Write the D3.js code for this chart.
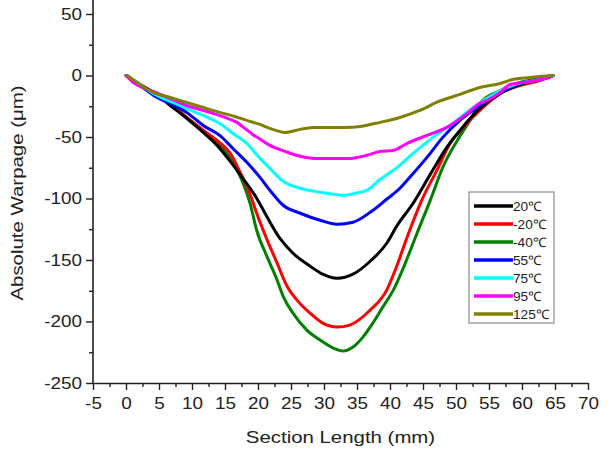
<!DOCTYPE html>
<html><head><meta charset="utf-8">
<script src="https://cdn.jsdelivr.net/npm/d3@7"></script>
<style>
body{margin:0;background:#fff}
svg{display:block}
text{font-family:"Liberation Sans",Arial,Helvetica,sans-serif;fill:#222}
</style>
</head><body>
<svg id="c" width="616" height="450"></svg>
<script>
// ---- data (x: mm, y: µm) ----
const seriesNames  = ["20℃", "-20℃", "-40℃", "55℃", "75℃", "95℃", "125℃"];
const seriesColors = ["#000000", "#ff0000", "#008000", "#0000ff", "#00ffff", "#ff00ff", "#808000"];

const s20 = [[0,0],[2.1,-7.3],[4.4,-14.6],[6.7,-24.4],[9.2,-34.9],[11.7,-46.3],[13.8,-56.8],[15.8,-69.8],[17.7,-83.6],[19.8,-99.8],[21.4,-115.3],[23.3,-132.3],[25.3,-144.5],[27.9,-155],[29.8,-161.5],[32,-164.8],[34.4,-161.5],[37,-151],[39.5,-136.4],[41.1,-121.8],[43.5,-103.9],[46.1,-80.4],[48.6,-58.4],[50.6,-44.6],[53.6,-26.8],[56.7,-14.6],[59.7,-7.3],[62.7,-3.2],[64.7,0]];
const sM20 = [[0,0],[2.1,-7.3],[4.4,-14.6],[6.7,-22.7],[9.2,-34.1],[11.7,-44.6],[13.8,-52.8],[15.8,-63.3],[17.3,-78.7],[18.8,-96.6],[19.8,-112],[21.4,-133.9],[22.9,-152.6],[24.4,-171.3],[25.9,-182.6],[27.9,-193.2],[29.8,-201.3],[32,-204.5],[33.9,-202.9],[37,-190.7],[39.5,-174.5],[40.9,-156.7],[42.7,-129.9],[44.8,-101.5],[47.1,-77.1],[49.1,-55.2],[51.1,-42.2],[53.6,-28.4],[56.7,-14.6],[59.7,-8.1],[62.7,-4.1],[64.7,0]];
const sM40 = [[0,0],[2.1,-7.3],[4.4,-14.6],[6.7,-22.7],[9.2,-34.1],[11.7,-44.6],[14.2,-56.8],[16.2,-70.6],[17.7,-86.9],[18.8,-103.9],[19.8,-125.8],[21.4,-147.7],[22.9,-166.4],[23.8,-179.4],[25.3,-193.2],[27.4,-207],[29.4,-215.1],[31.4,-221.6],[32.9,-224],[34.4,-220.8],[35.9,-212.7],[37.4,-201.3],[38.9,-188.3],[40.5,-174.5],[42,-156.7],[44.1,-128.2],[46.1,-101.5],[48,-74.7],[50.2,-52.8],[52.1,-36.5],[53.6,-22.7],[56.7,-12.2],[59.7,-5.7],[62.7,-2.4],[64.7,0]];
const s55 = [[0,0],[2.1,-8.1],[4.7,-17.9],[7,-23.5],[9.2,-30],[11.7,-40.6],[14.2,-48.7],[16.2,-59.3],[18.3,-70.6],[20.3,-82.8],[21.8,-93.3],[23.8,-105.5],[26.4,-112],[29.4,-117.7],[32,-120.9],[34.4,-119.3],[37,-111.2],[39.5,-100.6],[41.5,-91.7],[43,-82.8],[45.6,-66.6],[48,-50.3],[50.6,-36.5],[53.2,-26],[56.7,-13.8],[59.7,-6.5],[62.7,-3.2],[64.7,0]];
const s75 = [[0,0],[2.1,-7.3],[4.1,-14.6],[6.7,-21.1],[9.2,-26.8],[11.7,-32.5],[14.2,-39],[16.2,-47.1],[18.3,-55.2],[20.3,-67.4],[21.8,-75.5],[23.8,-86],[26.4,-91.7],[28.6,-94.2],[30.5,-95.8],[32.9,-97.4],[34.7,-95.8],[36.5,-93.3],[38.5,-84.4],[41.1,-74.7],[43.5,-63.3],[46.5,-50.3],[49.5,-39],[52.6,-26],[54.4,-19.5],[55.9,-14.6],[58.9,-7.3],[62.7,-3.2],[64.7,0]];
const s95 = [[0,0],[1.1,-5.7],[2.9,-10.6],[4.1,-13],[6.7,-18.7],[9.2,-24.4],[11.2,-27.6],[13.2,-30.8],[15,-34.1],[16.8,-38.1],[18,-43],[19.2,-47.9],[20.6,-52.8],[21.8,-56.8],[24.1,-61.7],[26.4,-65.7],[28.6,-67.4],[31.4,-67.4],[33.9,-67.4],[36.5,-64.9],[38.5,-61.7],[40.5,-60.9],[42.6,-55.2],[45.6,-48.7],[48.6,-42.2],[51.7,-30.8],[53.6,-22.7],[54.7,-20.3],[56.7,-13.8],[58.2,-7.3],[61.2,-4.9],[64.2,-1.6]];
const s125 = [[0.2,0],[2.1,-7.3],[4.1,-13.8],[6.7,-17.9],[9.2,-21.9],[11.7,-26],[14.2,-30],[16.5,-33.3],[18.3,-36.5],[20.3,-39.8],[21.8,-43],[24.1,-46.3],[26.4,-43.8],[28.6,-42.2],[30.9,-42.2],[33.2,-42.2],[35.5,-41.4],[38.5,-38.1],[41.5,-34.1],[44.5,-28.4],[47.4,-21.1],[50.6,-15.4],[53.6,-9.7],[56.7,-6.5],[58.6,-3.2],[61.2,-1.6],[64.7,0]];

const seriesData = [s20, sM20, sM40, s55, s75, s95, s125];

const xTicks = [-5,0,5,10,15,20,25,30,35,40,45,50,55,60,65,70];
const xMinor = [-2.5,2.5,7.5,12.5,17.5,22.5,27.5,32.5,37.5,42.5,47.5,52.5,57.5,62.5,67.5];
const yTicks = [-250,-200,-150,-100,-50,0,50];
const yMinor = [-225,-175,-125,-75,-25,25];

const xTitle = "Section Length (mm)";
const yTitle = "Absolute Warpage (μm)";

// ---- layout ----
const svg = d3.select("#c");
const x = d3.scaleLinear().domain([-5, 70]).range([93, 588]);
const y = d3.scaleLinear().domain([-250, 50]).range([383, 14]);
const fmt = d => String(d); // plain hyphen-minus like the original

function stretch(sel, f) {
  sel.each(function () {
    const L = this.getComputedTextLength();
    this.setAttribute("textLength", L * f);
    this.setAttribute("lengthAdjust", "spacingAndGlyphs");
  });
}

// lines (drawn bottom-to-top so the upper curves overlay)
const line = d3.line().x(d => x(d[0])).y(d => y(d[1])).curve(d3.curveMonotoneX);
const drawOrder = [2, 1, 0, 3, 4, 5, 6];
svg.append("g").selectAll("path").data(drawOrder).join("path")
  .attr("d", i => line(seriesData[i]))
  .attr("fill", "none")
  .attr("stroke", i => seriesColors[i])
  .attr("stroke-width", 3)
  .attr("stroke-linejoin", "round")
  .attr("stroke-linecap", "round");

// x axis
const gx = svg.append("g").attr("transform", `translate(0,${y(-250)})`);
gx.call(d3.axisBottom(x).tickValues(xTicks).tickFormat(fmt).tickSize(7).tickSizeOuter(0).tickPadding(8));
gx.append("g").call(d3.axisBottom(x).tickValues(xMinor).tickSize(4).tickFormat("")).select(".domain").remove();
gx.selectAll("line").attr("stroke", "#222").attr("stroke-width", 1.4);
gx.selectAll(".domain").attr("stroke", "#222").attr("stroke-width", 1.6);
gx.selectAll("text").attr("font-size", 16).style("fill", "#222")
  .attr("font-family", "'Liberation Sans', Arial, sans-serif");
stretch(gx.selectAll(".tick text"), 1.18);

// y axis
const gy = svg.append("g").attr("transform", `translate(${x(-5)},0)`);
gy.call(d3.axisLeft(y).tickValues(yTicks).tickFormat(fmt).tickSize(7).tickSizeOuter(0).tickPadding(4));
gy.append("g").call(d3.axisLeft(y).tickValues(yMinor).tickSize(4).tickFormat("")).select(".domain").remove();
gy.select(".domain").attr("d", `M0,${y(-250)}V0`);
gy.selectAll("line").attr("stroke", "#222").attr("stroke-width", 1.4);
gy.selectAll(".domain").attr("stroke", "#222").attr("stroke-width", 1.6);
gy.selectAll("text").attr("font-size", 16).style("fill", "#222")
  .attr("font-family", "'Liberation Sans', Arial, sans-serif");
stretch(gy.selectAll(".tick text"), 1.18);

// titles
const xt = svg.append("text").attr("x", (x(-5) + x(70)) / 2).attr("y", 443)
  .attr("text-anchor", "middle").attr("font-size", 17).text(xTitle);
stretch(xt, 1.2);
const yt = svg.append("text").attr("transform", `translate(23,193) rotate(-90)`)
  .attr("text-anchor", "middle").attr("font-size", 17).text(yTitle);
stretch(yt, 1.2);

// legend
const lg = svg.append("g").attr("transform", "translate(469,192)");
lg.append("rect").attr("width", 85).attr("height", 131)
  .attr("fill", "#fff").attr("stroke", "#8a8a8a").attr("stroke-width", 1.2);
const rows = lg.selectAll("g.row").data(seriesNames).join("g")
  .attr("class", "row").attr("transform", (d, i) => `translate(0,${14 + i * 18})`);
rows.append("line").attr("x1", 5).attr("x2", 44)
  .attr("stroke", (d, i) => seriesColors[i]).attr("stroke-width", 3.5);
const lt = rows.append("text").attr("x", 44).attr("dy", "0.36em")
  .attr("font-size", 13).text(d => d);
stretch(lt, 1.05);
</script>
</body></html>
